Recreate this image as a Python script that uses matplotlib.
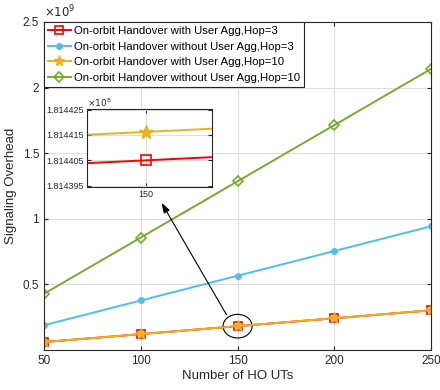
import numpy as np
import matplotlib
matplotlib.use('Agg')
import matplotlib.pyplot as plt
from matplotlib.ticker import FuncFormatter
from matplotlib.patches import Ellipse

plt.rcParams['font.family'] = ['Liberation Sans', 'DejaVu Sans']

n_uts = [50, 100, 150, 200, 250]
agg_hop3 = [6.04802e7, 1.209603e8, 1.814405e8, 2.419207e8, 3.024008e8]
noagg_hop3 = [1.886e8, 3.772e8, 5.658e8, 7.544e8, 9.430e8]
agg_hop10 = [6.04814e7, 1.209631e8, 1.8144162e8, 2.419262e8, 3.024078e8]
noagg_hop10 = [4.286e8, 8.572e8, 1.2858e9, 1.7144e9, 2.1430e9]
labels = ['On-orbit Handover with User Agg,Hop=3',
          'On-orbit Handover without User Agg,Hop=3',
          'On-orbit Handover with User Agg,Hop=10',
          'On-orbit Handover without User Agg,Hop=10']

red = (1, 0, 0)
blue = (0.30, 0.75, 0.93)
yellow = (0.93, 0.69, 0.13)
green = (0.47, 0.67, 0.19)
dark = (0.15, 0.15, 0.15)

fig = plt.figure(figsize=(4.4, 3.9), dpi=100)
ax = fig.add_axes([0.1, 0.1026, 0.88, 0.841])


def draw(a, ms=1.0):
    a.plot(n_uts, agg_hop3, '-s', color=red, lw=1.4, ms=6*ms, mfc='none', mew=1.2, label=labels[0])
    a.plot(n_uts, noagg_hop3, '-o', color=blue, lw=1.4, ms=4*ms, label=labels[1])
    a.plot(n_uts, agg_hop10, '-*', color=yellow, lw=1.4, ms=8*ms, label=labels[2])
    a.plot(n_uts, noagg_hop10, '-D', color=green, lw=1.4, ms=5*ms, mfc='none', mew=1.2, label=labels[3])


def style(a, fs):
    a.grid(True, color=(0.87, 0.87, 0.87), lw=0.8)
    a.set_axisbelow(True)
    a.tick_params(direction='in', top=True, right=True, colors=dark, labelsize=fs, length=3)
    for s in a.spines.values():
        s.set_color(dark)


draw(ax)
style(ax, 8.5)
ax.set_xlim(50, 250)
ax.set_ylim(0, 2.5e9)
ax.set_xticks(n_uts)
ax.set_yticks([0.5e9, 1e9, 1.5e9, 2e9, 2.5e9])
ax.yaxis.set_major_formatter(FuncFormatter(lambda v, p: f'{v/1e9:g}'))
ax.text(0.0, 1.005, r'$\times10^{9}$', transform=ax.transAxes, fontsize=8.5, color=dark, va='bottom')
ax.set_xlabel('Number of HO UTs', fontsize=9.5, color=dark, labelpad=2)
ax.set_ylabel('Signaling Overhead', fontsize=9.5, color=dark, labelpad=4)

leg = ax.legend(loc='upper left', fontsize=8.2, borderaxespad=0, fancybox=False,
                edgecolor=dark, framealpha=1, handlelength=2.0, borderpad=0.35,
                labelspacing=0.5, handletextpad=0.3)
leg.get_frame().set_linewidth(0.8)

# zoom marker on main axes
ax.add_patch(Ellipse((150, agg_hop3[2]), 15, 1.8e8, fill=False, color='black', lw=0.8))
ax.annotate('', xy=(110, 1.14e9), xytext=(145, 0.25e9),
            arrowprops=dict(arrowstyle='-|>,head_length=0.6,head_width=0.2',
                            color='black', lw=0.8, mutation_scale=10))

# inset
axin = fig.add_axes([0.1977, 0.5205, 0.2841, 0.2])
draw(axin, ms=1.3)
style(axin, 6.5)
axin.set_xlim(150 - 9.3e-5, 150 + 1.03e-4)
axin.set_ylim(1.8143945e8, 1.8144252e8)
axin.set_xticks([150])
axin.set_xticklabels(['150'])
axin.set_yticks([1.814395e8, 1.814405e8, 1.814415e8, 1.814425e8])
axin.yaxis.set_major_formatter(FuncFormatter(lambda v, p: f'{v/1e8:.6f}'))
axin.text(0.0, 1.0, r'$\times10^{8}$', transform=axin.transAxes, fontsize=6.5, color=dark, va='bottom')
axin.tick_params(pad=2)

fig.savefig('out.png', dpi=100)
